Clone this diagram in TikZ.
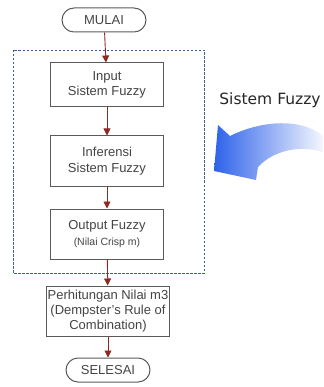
\documentclass[tikz,border=0pt]{standalone}
\usepackage[table]{xcolor}
\usepackage{tikz}
\usetikzlibrary{arrows.meta,backgrounds,calc,shadings}
\usepackage{fontspec}
\setmainfont{Liberation Sans}
\newfontfamily\labelfont{DejaVu Sans}

\definecolor{boxline}{HTML}{5A5A5A}
\definecolor{boxtext}{HTML}{444444}
\definecolor{flowred}{HTML}{8C2A22}
\definecolor{dashblue}{HTML}{3A5E9E}
\definecolor{arrowblue}{HTML}{2E62EA}

\begin{document}
\begin{tikzpicture}[x=1pt,y=-1pt,
  prosesbox/.style={draw=boxline,line width=1pt,fill=white,text=boxtext,inner sep=1pt,
    minimum width=113pt,align=center,font=\fontsize{13}{15.5}\selectfont},
  terminal/.style={draw=boxline,line width=1pt,rounded corners=12pt,text=boxtext,
    minimum width=84pt,minimum height=24pt,font=\fontsize{13}{15}\selectfont},
  alur/.style={draw=flowred,line width=0.9pt,-{Triangle[length=7pt,width=7pt]}}]
\useasboundingbox (0,0) rectangle (323,387);

% kotak sistem fuzzy
\draw[dashblue,line width=0.8pt,dash pattern=on 2.5pt off 1.5pt] (13,50) rectangle (204,273);

\node[terminal] (mulai) at (104,20) {MULAI};
\node[prosesbox,minimum height=44pt] (input) at (107,85) {Input\\Sistem Fuzzy};
\node[prosesbox,minimum height=50pt] (inferensi) at (107,161) {Inferensi\\Sistem Fuzzy};
\node[prosesbox,minimum height=50pt] (output) at (107,234) {Output Fuzzy\\{\fontsize{10.5}{12}\selectfont(Nilai Crisp m)}};
\node[prosesbox,minimum width=118pt,minimum height=50pt,font=\fontsize{13}{15}\selectfont] (hitung) at (108,311)
  {Perhitungan Nilai m3\\(Dempster's Rule of\\Combination)};
\node[terminal] (selesai) at (108,370) {SELESAI};

\draw[alur] (mulai) -- (input);
\draw[alur] (input) -- (inferensi);
\draw[alur] (inferensi) -- (output);
\draw[alur] (output) -- (hitung);
\draw[alur] (hitung) -- (selesai);

% label dan panah biru
\node[text=black!85,font=\labelfont\fontsize{15.5}{18}\selectfont] (label) at (270,100) {Sistem Fuzzy};
\shade[left color=arrowblue,right color=white!95!arrowblue]
  (214,171) -- (218,125) -- (230,136)
  .. controls (262,120) and (302,118) .. (323,136) -- (323,152)
  .. controls (300,145) and (274,150) .. (258,167) -- (256,180) -- cycle;
\end{tikzpicture}
\end{document}
